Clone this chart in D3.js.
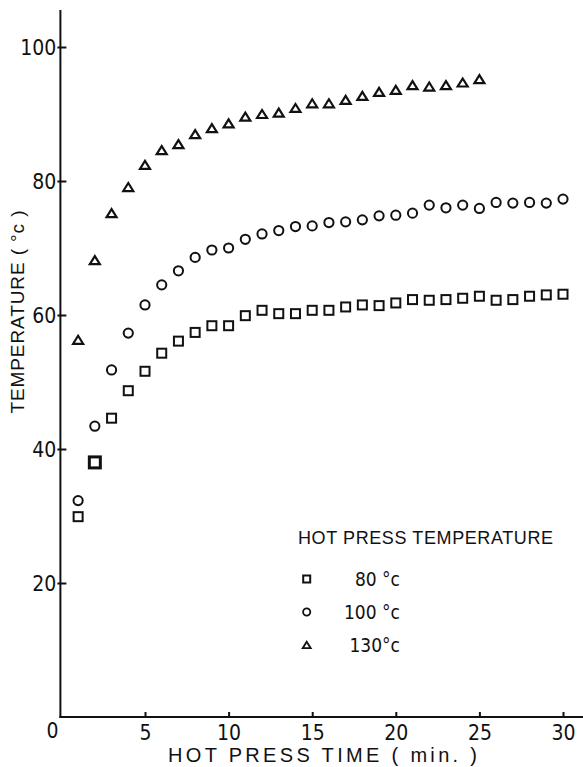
<!DOCTYPE html>
<html>
<head>
<meta charset="utf-8">
<script src="https://cdn.jsdelivr.net/npm/d3@7"></script>
<style>
  html, body { margin: 0; padding: 0; background: #fff; }
  svg { display: block; }
  text { font-family: "Liberation Sans Narrow", "DejaVu Sans Condensed", "Liberation Sans", sans-serif; fill: #111; }
  text.title { font-family: "Liberation Sans", Arial, sans-serif; }
</style>
</head>
<body>
<script>
// Hot press time, minutes
const time130 = d3.range(1, 26);
const time = d3.range(1, 31);

// Measured temperature (°C) for each hot press temperature
const temp80 = [29.9, 38.0, 44.6, 48.7, 51.6, 54.3, 56.1, 57.4, 58.4, 58.4,
                59.9, 60.7, 60.2, 60.2, 60.7, 60.7, 61.2, 61.5, 61.4, 61.8,
                62.3, 62.2, 62.3, 62.5, 62.8, 62.2, 62.3, 62.8, 63.0, 63.1];
const temp100 = [32.3, 43.4, 51.8, 57.3, 61.5, 64.5, 66.6, 68.6, 69.7, 70.0,
                 71.3, 72.1, 72.6, 73.2, 73.3, 73.8, 73.9, 74.2, 74.8, 74.9,
                 75.2, 76.4, 76.0, 76.4, 75.9, 76.8, 76.7, 76.8, 76.7, 77.3];
const temp130 = [56.3, 68.2, 75.2, 79.1, 82.4, 84.6, 85.5, 87.0, 87.9, 88.6,
                 89.6, 90.0, 90.2, 90.9, 91.6, 91.6, 92.1, 92.7, 93.3, 93.6,
                 94.3, 94.1, 94.3, 94.7, 95.2];

const xTicks = [5, 10, 15, 20, 25, 30];
const yTicks = [20, 40, 60, 80, 100];
const legendLabels = ["80 °c", "100 °c", "130°c"];

const W = 583, H = 767;
const svg = d3.select("body").append("svg").attr("width", W).attr("height", H);

const x = d3.scaleLinear().domain([0, 30]).range([61.4, 563]);
const y = d3.scaleLinear().domain([0, 100]).range([717, 47]);

// Axes
const xAxis = svg.append("g").attr("transform", `translate(0,${y(0)})`)
  .call(d3.axisBottom(x).tickValues(xTicks).tickSize(-5).tickPadding(8).tickFormat(d3.format("d")));
const yAxis = svg.append("g").attr("transform", `translate(${x(0) - 1},0)`)
  .call(d3.axisLeft(y).tickValues(yTicks).tickSize(-6).tickPadding(4).tickFormat(d3.format("d")));

[xAxis, yAxis].forEach(g => {
  g.select(".domain").remove();
  g.selectAll(".tick line").attr("stroke", "#111").attr("stroke-width", 2);
  g.selectAll(".tick text").attr("font-size", 21).attr("fill", "#111");
});
yAxis.selectAll(".tick line").attr("x1", -3);
yAxis.selectAll(".tick text").attr("dy", "0.36em");

// Axis lines
svg.append("line").attr("x1", x(0) - 1).attr("x2", x(0) - 1).attr("y1", 10).attr("y2", y(0) + 1)
  .attr("stroke", "#111").attr("stroke-width", 2);
svg.append("line").attr("x1", x(0) - 2).attr("x2", 583).attr("y1", y(0)).attr("y2", y(0))
  .attr("stroke", "#111").attr("stroke-width", 2);

// Origin label
svg.append("text").attr("x", x(0) - 9).attr("y", 738).attr("text-anchor", "middle")
  .attr("font-size", 21).text("0");

// Axis titles
svg.append("text").attr("class", "title").attr("x", 168).attr("y", 762).attr("font-size", 20)
  .attr("textLength", 309).attr("lengthAdjust", "spacing")
  .text("HOT  PRESS  TIME  ( min. )");
svg.append("text").attr("class", "title").attr("transform", "translate(24,312) rotate(-90)")
  .attr("text-anchor", "middle").attr("font-size", 19)
  .attr("textLength", 203).attr("lengthAdjust", "spacing")
  .text("TEMPERATURE ( °c )");

// Marker shapes
function square(g, cx, cy, s, sw) {
  g.append("rect").attr("x", cx - s / 2).attr("y", cy - s / 2).attr("width", s).attr("height", s)
    .attr("fill", "none").attr("stroke", "#111").attr("stroke-width", sw);
}
function circle(g, cx, cy, r, sw) {
  g.append("circle").attr("cx", cx).attr("cy", cy).attr("r", r)
    .attr("fill", "none").attr("stroke", "#111").attr("stroke-width", sw);
}
function triangle(g, cx, cy, s, sw) {
  const h = s * 0.8;
  g.append("path").attr("d", `M${cx},${cy - h / 2}L${cx + s / 2},${cy + h / 2}L${cx - s / 2},${cy + h / 2}Z`)
    .attr("fill", "none").attr("stroke", "#111").attr("stroke-width", sw).attr("stroke-linejoin", "miter");
}

const marks = svg.append("g");
temp80.forEach((v, i) => {
  const bold = time[i] === 2;
  square(marks, x(time[i]), y(v), bold ? 11 : 9, bold ? 3 : 2);
});
temp100.forEach((v, i) => circle(marks, x(time[i]), y(v), 4.6, 2));
temp130.forEach((v, i) => triangle(marks, x(time130[i]), y(v), 10, 2.2));

// Legend
const lg = svg.append("g");
lg.append("text").attr("class", "title").attr("x", 298).attr("y", 544).attr("font-size", 18)
  .attr("textLength", 255).attr("lengthAdjust", "spacing")
  .text("HOT  PRESS  TEMPERATURE");
const rowY = [579, 612, 645];
square(lg, 306.7, rowY[0], 7, 2);
circle(lg, 306.7, rowY[1], 3.6, 1.8);
triangle(lg, 306.7, rowY[2], 8, 1.8);
legendLabels.forEach((t, i) => {
  lg.append("text").attr("x", 400).attr("y", rowY[i] + 6.5).attr("text-anchor", "end")
    .attr("font-size", 19).text(t);
});
</script>
</body>
</html>
